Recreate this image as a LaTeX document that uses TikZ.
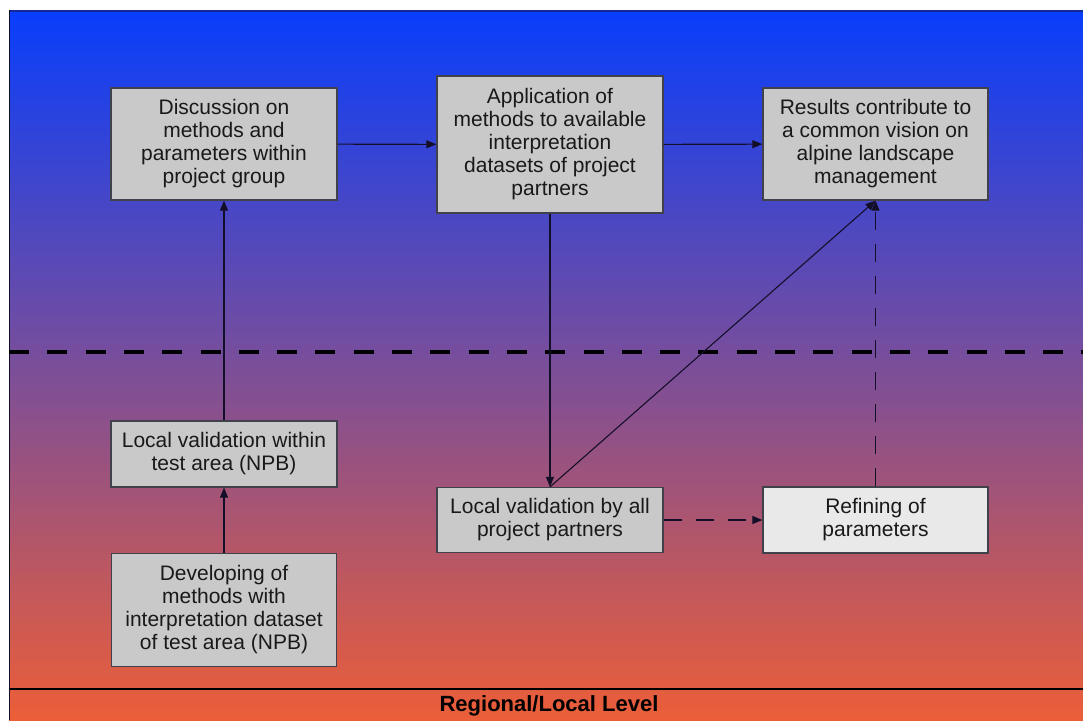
\documentclass[tikz,border=0pt]{standalone}
\usepackage{fontspec}
\setmainfont{Liberation Sans}
\usetikzlibrary{arrows.meta}
\definecolor{bgtop}{RGB}{8,62,252}
\definecolor{bgmid}{RGB}{112,80,165}
\definecolor{bgbot}{RGB}{236,94,56}
\definecolor{topline}{RGB}{20,40,150}
\definecolor{baseline}{RGB}{100,35,30}
\definecolor{boxfill}{RGB}{201,201,201}
\definecolor{boxlight}{RGB}{233,233,233}
\definecolor{boxline}{RGB}{65,65,75}
\definecolor{textcol}{RGB}{25,25,25}
\definecolor{linecol}{RGB}{20,15,40}
\begin{document}
\begin{tikzpicture}[x=1pt,y=-1pt,
  box/.style={draw=boxline, line width=1.3pt, fill=boxfill, text=textcol,
    align=center, inner sep=0pt, font=\fontsize{21}{23}\selectfont},
  link/.style={draw=linecol, line width=1.1pt, -{Triangle[length=10pt,width=8pt]}},
  dlink/.style={link, dash pattern=on 18pt off 14pt}]
\useasboundingbox (0,0) rectangle (1083,720);
\fill[white] (0,0) rectangle (1083,720);
% background gradient panel
\shade[top color=bgtop, middle color=bgmid, bottom color=bgbot] (9,10) rectangle (1083,720);
\draw[topline, line width=2pt] (9,11) -- (1083,11);
\draw[linecol, line width=0.8pt] (9.4,10) -- (9.4,720);
\draw[baseline, line width=1.4pt] (9,689) -- (1083,689);
% level separator
\draw[black, line width=4pt, dash pattern=on 20pt off 18.3pt] (9,351.5) -- (1083,351.5);

% process boxes
\node[box, minimum width=226pt, minimum height=112pt] (disc) at (224,144)
  {Discussion on\\methods and\\parameters within\\project group};
\node[box, minimum width=226pt, minimum height=137pt] (appl) at (550,144.5)
  {Application of\\methods to available\\interpretation\\datasets of project\\partners};
\node[box, minimum width=225pt, minimum height=112pt] (res) at (875.5,144)
  {Results contribute to\\a common vision on\\alpine landscape\\management};
\node[box, minimum width=226pt, minimum height=66pt] (valtest) at (224,454)
  {Local validation within\\test area (NPB)};
\node[box, minimum width=225pt, minimum height=113pt] (dev) at (224,610)
  {Developing of\\methods with\\interpretation dataset\\of test area (NPB)};
\node[box, minimum width=226pt, minimum height=65pt] (valall) at (550,520)
  {Local validation by all\\project partners};
\node[box, fill=boxlight, minimum width=225pt, minimum height=66pt] (refine) at (875.5,520)
  {Refining of\\parameters};

\node[text=black, font=\fontsize{22}{24}\selectfont\bfseries] (level) at (549,705.5)
  {Regional/Local Level};

% connectors
\draw[link] (disc) -- (appl);
\draw[link] (appl) -- (res);
\draw[link] (dev) -- (valtest);
\draw[link] (valtest) -- (disc);
\draw[link] (appl) -- (valall);
\draw[link] (valall.north) -- (res.south);
\draw[dlink] (valall) -- (refine);
\draw[dlink] (refine) -- (res);
\end{tikzpicture}
\end{document}
